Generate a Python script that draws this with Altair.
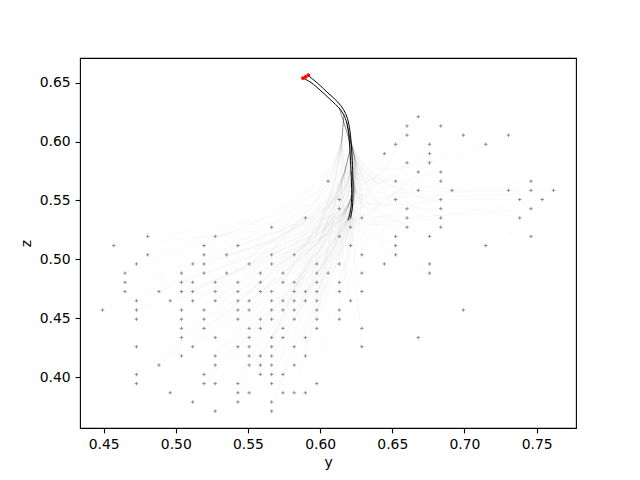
import altair as alt
import pandas as pd

# grid points: z level of each row and the y values of the points in that row
row_z = [0.6211, 0.6133, 0.6055, 0.5977, 0.5898, 0.5820, 0.5742, 0.5664,
         0.5586, 0.5508, 0.5430, 0.5352, 0.5273, 0.5195, 0.5117, 0.5039,
         0.4961, 0.4883, 0.4805, 0.4727, 0.4648, 0.4570, 0.4492, 0.4414,
         0.4336, 0.4258, 0.4180, 0.4102, 0.4023, 0.3945, 0.3867, 0.3789, 0.3711]
row_y = [
    [0.6680],
    [0.6602, 0.6836],
    [0.6602, 0.6992, 0.7305],
    [0.6523, 0.6758, 0.7148],
    [0.6445, 0.6758],
    [0.6602, 0.6758],
    [0.6680, 0.6836],
    [0.6055, 0.6523, 0.6836, 0.7461],
    [0.6680, 0.6914, 0.7305, 0.7461, 0.7617],
    [0.6133, 0.6523, 0.6836, 0.7383, 0.7539],
    [0.6133, 0.6602, 0.6836, 0.7461],
    [0.5898, 0.6289, 0.6602, 0.6836, 0.7383],
    [0.5664, 0.6211, 0.6602, 0.6836],
    [0.4805, 0.5273, 0.6133, 0.6523, 0.6758, 0.7461],
    [0.4570, 0.5195, 0.5430, 0.6211, 0.6523, 0.7148],
    [0.4805, 0.5195, 0.5352, 0.5664, 0.5820, 0.6289, 0.6523],
    [0.4727, 0.5117, 0.5195, 0.5508, 0.5664, 0.5977, 0.6133, 0.6445, 0.6758],
    [0.4648, 0.5039, 0.5195, 0.5352, 0.5586, 0.5742, 0.5977, 0.6055, 0.6289, 0.6758],
    [0.4648, 0.5039, 0.5117, 0.5273, 0.5430, 0.5586, 0.5742, 0.5820, 0.5977, 0.6133],
    [0.4648, 0.4883, 0.5039, 0.5117, 0.5273, 0.5430, 0.5586, 0.5664, 0.5820, 0.5898, 0.5977, 0.6133, 0.6289],
    [0.4727, 0.4961, 0.5117, 0.5273, 0.5430, 0.5508, 0.5664, 0.5742, 0.5820, 0.5898, 0.5977, 0.6211],
    [0.4492, 0.4727, 0.5039, 0.5195, 0.5430, 0.5508, 0.5664, 0.5742, 0.5820, 0.5977, 0.6133, 0.6992],
    [0.4727, 0.5039, 0.5195, 0.5430, 0.5586, 0.5664, 0.5820, 0.5977, 0.6133],
    [0.5039, 0.5195, 0.5508, 0.5586, 0.5742, 0.5977, 0.6289],
    [0.5039, 0.5273, 0.5508, 0.5664, 0.5742, 0.5898, 0.6680],
    [0.4727, 0.5117, 0.5430, 0.5508, 0.5664, 0.5820, 0.6289],
    [0.5039, 0.5273, 0.5508, 0.5586, 0.5664, 0.5898],
    [0.4883, 0.5273, 0.5508, 0.5586, 0.5664, 0.5820],
    [0.4727, 0.5195, 0.5586, 0.5664, 0.5742],
    [0.4727, 0.5195, 0.5273, 0.5430, 0.5664, 0.5977],
    [0.4961, 0.5430, 0.5508, 0.5742, 0.5820, 0.5898],
    [0.5117, 0.5430, 0.5664],
    [0.5273, 0.5664],
]

# main black path (top to bottom)
trunk1_y = [0.5881, 0.5930, 0.5978, 0.6034, 0.6082, 0.6131, 0.6165, 0.6186,
            0.6200, 0.6207, 0.6214, 0.6221, 0.6214, 0.6193]
trunk1_z = [0.6538, 0.6512, 0.6461, 0.6401, 0.6342, 0.6291, 0.6231, 0.6163,
            0.6053, 0.5925, 0.5755, 0.5543, 0.5415, 0.5330]
# second black path
trunk2_y = [0.5916, 0.5958, 0.6000, 0.6048, 0.6097, 0.6145, 0.6179, 0.6200,
            0.6214, 0.6221, 0.6228, 0.6228, 0.6221, 0.6207]
trunk2_z = [0.6563, 0.6521, 0.6478, 0.6419, 0.6368, 0.6308, 0.6240, 0.6155,
            0.6027, 0.5883, 0.5713, 0.5500, 0.5398, 0.5347]

# faint tracks: bend point and the trunk point where each family of tracks ends
bend_y = [0.615, 0.628, 0.610, 0.632, 0.622, 0.628, 0.612, 0.635]
bend_z = [0.530, 0.535, 0.540, 0.550, 0.525, 0.560, 0.555, 0.545]
join_y = [0.6221, 0.6214, 0.6207, 0.6200, 0.6214, 0.6186, 0.6165, 0.6131]
join_z = [0.5543, 0.5755, 0.5925, 0.6053, 0.5415, 0.6163, 0.6231, 0.6291]

# red seed points
seed_y = [0.5881, 0.5900, 0.5918]
seed_z = [0.6540, 0.6550, 0.6565]

# ---- build tables ----
pts = []
for z, ys in zip(row_z, row_y):
    for y in ys:
        pts.append({"y": y, "z": z})
pts_df = pd.DataFrame(pts)

tracks = []
for n, p in enumerate(pts):
    r = n % len(bend_y)
    seq = [(p["y"], p["z"]), (bend_y[r], bend_z[r]), (join_y[r], join_z[r])]
    for s, (yy, zz) in enumerate(seq):
        tracks.append({"id": n, "step": s, "y": yy, "z": zz})
tracks_df = pd.DataFrame(tracks)

black = []
for s, (yy, zz) in enumerate(zip(trunk1_y, trunk1_z)):
    black.append({"id": "a", "step": s, "y": yy, "z": zz})
for s, (yy, zz) in enumerate(zip(trunk2_y, trunk2_z)):
    black.append({"id": "b", "step": s, "y": yy, "z": zz})
black_df = pd.DataFrame(black)

seed_df = pd.DataFrame({"y": seed_y, "z": seed_z})

xscale = alt.Scale(domain=[0.4336, 0.7773], nice=False, zero=False)
yscale = alt.Scale(domain=[0.3568, 0.6710], nice=False, zero=False)

xaxis = alt.Axis(values=[0.45, 0.50, 0.55, 0.60, 0.65, 0.70, 0.75], format=".2f",
                 title="y")
yaxis = alt.Axis(values=[0.40, 0.45, 0.50, 0.55, 0.60, 0.65], format=".2f",
                 title="z")

X = alt.X("y:Q", scale=xscale, axis=xaxis)
Y = alt.Y("z:Q", scale=yscale, axis=yaxis)

faint = alt.Chart(tracks_df).mark_line(
    interpolate="basis", color="black", strokeWidth=0.45, opacity=0.06, clip=True
).encode(x=X, y=Y, detail="id:N", order="step:Q")

dark = alt.Chart(black_df).mark_line(
    interpolate="basis", color="black", strokeWidth=1.0, clip=True
).encode(x=X, y=Y, detail="id:N", order="step:Q")

markers = alt.Chart(pts_df).mark_point(
    shape="M-1,0L1,0M0,-1L0,1", filled=False, stroke="#7a7a7a",
    strokeWidth=0.8, size=12, opacity=1
).encode(x=X, y=Y)

seeds = alt.Chart(seed_df).mark_point(
    shape="circle", filled=True, color="red", size=14, opacity=1
).encode(x=X, y=Y)

chart = alt.layer(faint, markers, dark, seeds).properties(
    width=496, height=370,
    padding={"left": 72, "top": 50, "right": 56, "bottom": 45},
    autosize=alt.AutoSizeParams(type="none"),
).configure_view(
    stroke="black", strokeWidth=1.1
).configure_axis(
    grid=False, domain=False, ticks=True, tickSize=4.9, tickWidth=1.1,
    tickColor="black", labelFont="DejaVu Sans", labelFontSize=13.9,
    labelColor="black", labelPadding=4.9, titleFont="DejaVu Sans",
    titleFontSize=13.9, titleFontWeight="normal", titleColor="black"
).configure_axisX(titlePadding=4).configure_axisY(titlePadding=6)

chart.save("out.html", embed_options={"renderer": "svg", "actions": False})
